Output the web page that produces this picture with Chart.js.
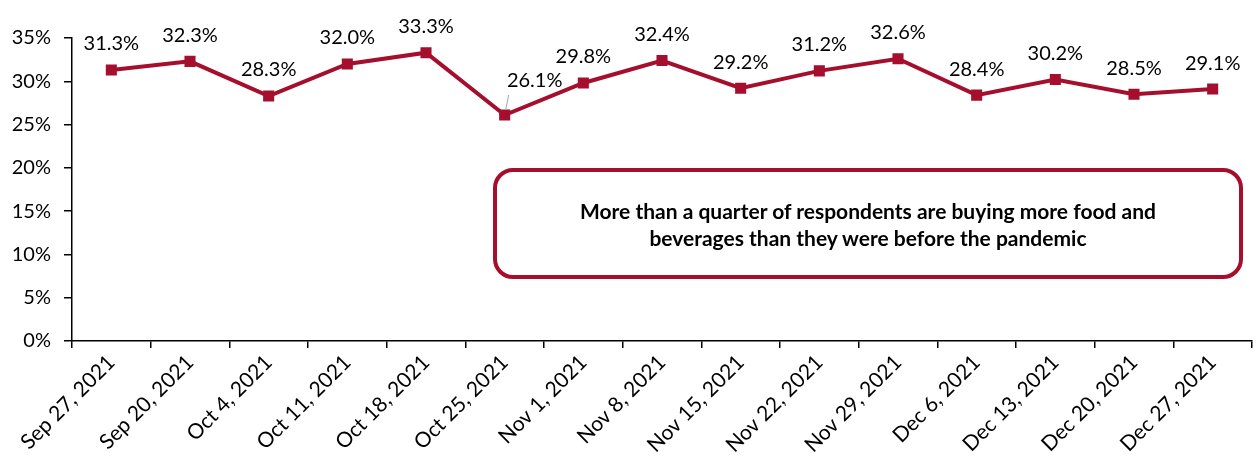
<!DOCTYPE html>
<html>
<head>
<meta charset="utf-8">
<script src="https://cdn.jsdelivr.net/npm/chart.js@4"></script>
<style>
  html, body { margin:0; padding:0; background:#fff; }
  #wrap { position:relative; width:1256px; height:476px; }
  #note {
    position:absolute; left:493px; top:168px; width:742px; height:103px;
    border:4px solid #A50F2D; border-radius:20px; box-sizing:content-box;
    display:flex; align-items:center; justify-content:center; text-align:center;
    font-family:Lato, "Open Sans", sans-serif; font-weight:bold; font-size:21px; line-height:27px;
    color:#000;
  }
</style>
</head>
<body>
<div id="wrap">
  <canvas id="c" width="1256" height="476"></canvas>
  <div id="note">More than a quarter of respondents are buying more food and<br>beverages than they were before the pandemic</div>
</div>
<script>
const labels = ['Sep 27, 2021','Sep 20, 2021','Oct 4, 2021','Oct 11, 2021','Oct 18, 2021','Oct 25, 2021',
  'Nov 1, 2021','Nov 8, 2021','Nov 15, 2021','Nov 22, 2021','Nov 29, 2021','Dec 6, 2021',
  'Dec 13, 2021','Dec 20, 2021','Dec 27, 2021'];
const values = [31.3, 32.3, 28.3, 32.0, 33.3, 26.1, 29.8, 32.4, 29.2, 31.2, 32.6, 28.4, 30.2, 28.5, 29.1];
const yTicks = [0, 5, 10, 15, 20, 25, 30, 35];

const RED = '#A50F2D';
const FONT = 'Lato, "Open Sans", sans-serif';

// value labels above each point; the dip gets pushed right with a little leader line
const pointLabels = {
  id: 'pointLabels',
  afterDatasetsDraw(chart){
    const ctx = chart.ctx;
    const meta = chart.getDatasetMeta(0);
    ctx.save();
    ctx.font = '20px ' + FONT;
    ctx.fillStyle = '#000';
    ctx.textAlign = 'center';
    ctx.textBaseline = 'middle';
    meta.data.forEach((pt, i) => {
      let x = pt.x, y = pt.y - 26;
      if (i === 5) {
        x = pt.x + 30; y = pt.y - 35;
        ctx.strokeStyle = '#A6A6A6';
        ctx.lineWidth = 1;
        ctx.beginPath();
        ctx.moveTo(pt.x + 1, pt.y - 5);
        ctx.lineTo(pt.x + 4, pt.y - 20);
        ctx.stroke();
      }
      ctx.fillText(values[i].toFixed(1) + '%', x, y);
    });
    ctx.restore();
  }
};

new Chart(document.getElementById('c'), {
  type: 'line',
  data: {
    labels,
    datasets: [{
      data: values,
      borderColor: RED,
      backgroundColor: RED,
      borderWidth: 4,
      pointStyle: 'rect',
      pointRadius: 5,
      pointBackgroundColor: RED,
      pointBorderColor: RED,
      tension: 0,
      clip: false
    }]
  },
  options: {
    responsive: false,
    animation: false,
    layout: { autoPadding: false, padding: { top: 38, right: 4, left: 0, bottom: 0 } },
    plugins: { legend: { display:false }, tooltip: { enabled:false } },
    scales: {
      x: {
        offset: true,
        grid: { offset: true, drawOnChartArea: false, drawTicks: true, tickLength: 7, color: '#000', lineWidth: 1.5 },
        border: { display: true, color: '#000', width: 1.5 },
        ticks: { color: '#000', font: { size: 21, family: FONT }, maxRotation: 45, minRotation: 45, padding: 2, autoSkip: false },
        afterFit: s => { s.height = 135; s.paddingRight = 0; }
      },
      y: {
        min: 0, max: 35,
        afterBuildTicks: s => { s.ticks = yTicks.map(v => ({ value: v })); },
        grid: { drawOnChartArea: false, drawTicks: true, tickLength: 8, color: '#000', lineWidth: 1.5 },
        border: { display: true, color: '#000', width: 1.5 },
        ticks: { color: '#000', font: { size: 20, family: FONT }, padding: 13, callback: v => v + '%' },
        afterFit: s => { s.width = 72; }
      }
    }
  },
  plugins: [pointLabels]
});
</script>
</body>
</html>
